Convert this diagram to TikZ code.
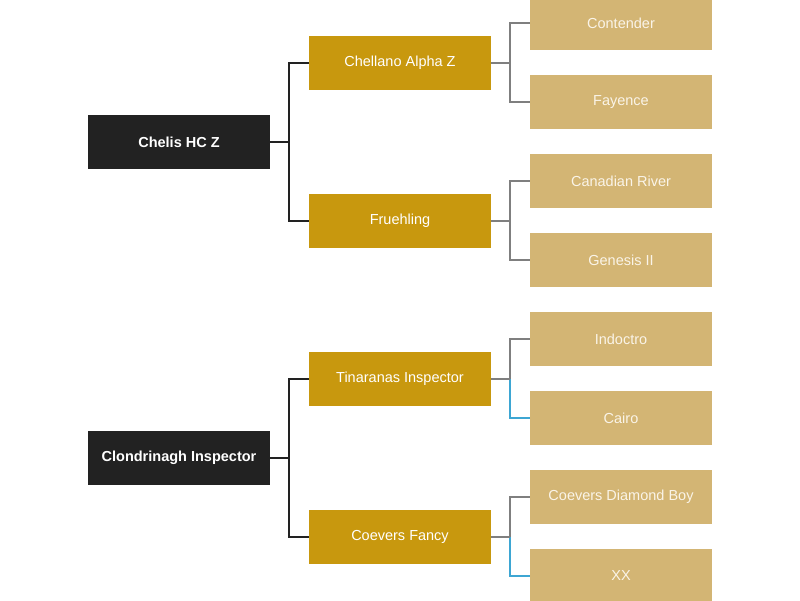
\documentclass[tikz,border=0pt]{standalone}
\usepackage{fontspec}
\setmainfont{Liberation Sans}
\usepackage{xcolor}
\usepackage{tikz}
\definecolor{coal}{HTML}{222222}
\definecolor{gold}{HTML}{C8980E}
\definecolor{sand}{HTML}{D3B574}
\definecolor{cream}{HTML}{FAF4E8}
\definecolor{wire}{HTML}{7F7F7F}
\definecolor{sky}{HTML}{3DA6D3}

\tikzset{
  sire/.style={fill=coal,text=white,font=\fontsize{14.5}{16}\selectfont\bfseries,minimum width=182pt,minimum height=54pt,inner sep=0pt},
  gen2/.style={fill=gold,text=white,font=\fontsize{14.5}{16}\selectfont,minimum width=182pt,minimum height=54pt,inner sep=0pt},
  gen3/.style={fill=sand,text=cream,font=\fontsize{14.5}{16}\selectfont,minimum width=182pt,minimum height=54pt,inner sep=0pt},
  link/.style={line width=1.5pt},
}

\begin{document}
\begin{tikzpicture}[x=1pt,y=1pt]
\useasboundingbox (0,0) rectangle (800,600);
% first generation
\node[sire] (chelis) at (179,458) {Chelis HC Z};
\node[sire] (clond) at (179,142) {Clondrinagh Inspector};
% second generation
\node[gen2] (chellano) at (400,537) {Chellano Alpha Z};
\node[gen2] (fruehling) at (400,379) {Fruehling};
\node[gen2] (tinaranas) at (400,221) {Tinaranas Inspector};
\node[gen2] (cfancy) at (400,63) {Coevers Fancy};
% third generation
\node[gen3] (contender) at (621,577) {Contender};
\node[gen3] (fayence) at (621,498) {Fayence};
\node[gen3] (canriver) at (621,419) {Canadian River};
\node[gen3] (genesis) at (621,340) {Genesis II};
\node[gen3] (indoctro) at (621,261) {Indoctro};
\node[gen3] (cairo) at (621,182) {Cairo};
\node[gen3] (cdiamond) at (621,103) {Coevers Diamond Boy};
\node[gen3] (xx) at (621,24) {XX};

% sire links
\draw[link,coal] (chelis.east) -- ++(19,0) |- (chellano.west);
\draw[link,coal] (chelis.east) -- ++(19,0) |- (fruehling.west);
\draw[link,coal] (clond.east) -- ++(19,0) |- (tinaranas.west);
\draw[link,coal] (clond.east) -- ++(19,0) |- (cfancy.west);
% second generation links
\draw[link,wire] (chellano.east) -- ++(19,0) |- (contender.west);
\draw[link,wire] (chellano.east) -- ++(19,0) |- (fayence.west);
\draw[link,wire] (fruehling.east) -- ++(19,0) |- (canriver.west);
\draw[link,wire] (fruehling.east) -- ++(19,0) |- (genesis.west);
\draw[link,wire] (tinaranas.east) -- ++(19,0) |- (indoctro.west);
\draw[link,sky] (tinaranas.east) ++(19,0) |- (cairo.west);
\draw[link,wire] (tinaranas.east) -- ++(19,0);
\draw[link,wire] (cfancy.east) -- ++(19,0) |- (cdiamond.west);
\draw[link,sky] (cfancy.east) ++(19,0) |- (xx.west);
\draw[link,wire] (cfancy.east) -- ++(19,0);
\end{tikzpicture}
\end{document}
